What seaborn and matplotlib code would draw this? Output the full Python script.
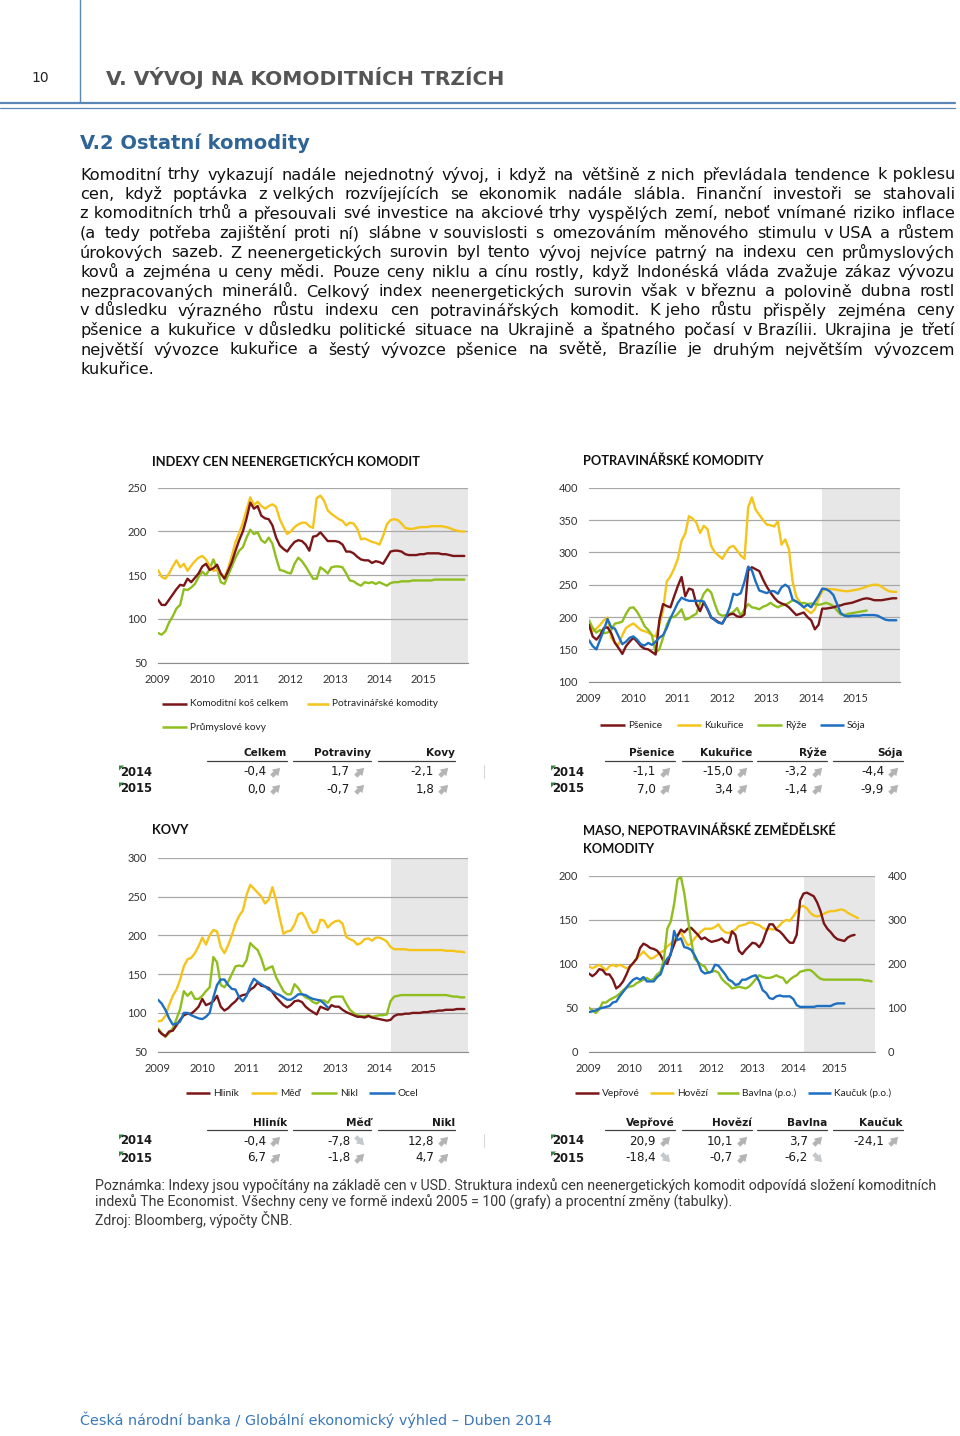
import numpy as np
import matplotlib
matplotlib.use("Agg")
import matplotlib.pyplot as plt
import seaborn as sns
from matplotlib.patches import Polygon

nan = np.nan
W, H = 960, 1436

# monthly points 2009-01 .. 2015-12
months = 2009 + np.arange(84) / 12.0
years = [2009, 2010, 2011, 2012, 2013, 2014, 2015]
forecast_start = 2014.25

# --- INDEXY CEN NEENERGETICKÝCH KOMODIT ---
celkem = [122, 116, 116, 122, 128, 134, 139, 138, 146, 142, 147, 152,
          160, 163, 156, 158, 162, 152, 146, 155, 165, 178, 190, 200,
          215, 233, 226, 229, 218, 215, 214, 207, 193, 184, 180, 177,
          183, 188, 190, 189, 185, 178, 194, 195, 199, 194, 189, 189,
          189, 188, 185, 177, 177, 175, 171, 168, 167, 167, 164, 166,
          165, 163, 170, 177, 178, 178, 177, 174, 173, 173, 173, 174,
          174, 175, 175, 175, 175, 174, 174, 173, 172, 172, 172, 172]
potraviny = [156, 148, 146, 152, 160, 167, 159, 163, 155, 161, 166, 170,
             172, 168, 160, 155, 156, 152, 147, 158, 172, 188, 198, 210,
             225, 239, 230, 234, 229, 226, 229, 231, 228, 214, 205, 197,
             200, 205, 208, 210, 210, 206, 204, 238, 241, 235, 224, 220,
             217, 214, 212, 207, 210, 209, 203, 191, 192, 190, 188, 187,
             185, 195, 208, 213, 214, 213, 209, 204, 203, 203, 204, 205,
             205, 205, 206, 206, 206, 206, 205, 204, 202, 201, 200, 200]
kovy = [84, 82, 86, 96, 103, 112, 116, 134, 133, 136, 140, 148,
        154, 150, 157, 168, 158, 142, 140, 150, 160, 170, 178, 182,
        193, 202, 197, 199, 190, 187, 193, 186, 170, 156, 155, 153,
        152, 163, 170, 166, 160, 153, 146, 146, 159, 156, 152, 159,
        160, 160, 159, 152, 144, 143, 140, 138, 142, 141, 142, 140,
        142, 140, 138, 141, 142, 142, 143, 143, 143, 144, 144, 144,
        144, 144, 144, 145, 145, 145, 145, 145, 145, 145, 145, 145]

# --- POTRAVINÁŘSKÉ KOMODITY ---
psenice = [188, 170, 165, 172, 183, 184, 175, 160, 152, 143, 155, 162,
           168, 162, 155, 151, 150, 146, 142, 195, 220, 217, 215, 232,
           248, 262, 232, 244, 242, 220, 209, 223, 212, 199, 196, 192,
           190, 200, 204, 205, 201, 200, 204, 272, 277, 274, 271, 258,
           247, 238, 230, 224, 221, 219, 215, 209, 203, 205, 207, 200,
           195, 181, 188, 213, 213, 214, 215, 217, 218, 220, 221, 222,
           224, 226, 228, 229, 228, 226, 226, 226, 227, 228, 229, 229]
kukurice = [193, 178, 182, 188, 195, 199, 168, 160, 157, 172, 183, 187,
            190, 185, 180, 178, 176, 172, 170, 188, 210, 255, 263, 275,
            290, 318, 329, 356, 352, 346, 330, 341, 336, 310, 300, 295,
            290, 300, 308, 310, 303, 295, 290, 370, 385, 366, 358, 350,
            343, 342, 340, 348, 312, 320, 305, 255, 231, 223, 215, 210,
            206, 212, 228, 240, 244, 243, 243, 242, 241, 240, 240, 241,
            242, 243, 245, 247, 249, 250, 250, 247, 243, 240, 239, 239]
ryze = [195, 183, 176, 180, 175, 176, 180, 190, 191, 193, 205, 214,
        215, 208, 198, 186, 180, 172, 145, 150, 168, 188, 200, 200,
        205, 212, 196, 198, 202, 205, 222, 236, 243, 238, 220, 205,
        202, 203, 205, 208, 214, 202, 212, 220, 215, 214, 212, 216,
        218, 222, 218, 215, 218, 219, 222, 226, 224, 221, 222, 220,
        221, 220, 219, 220, 222, 220, 217, 210, 204, 203, 205, 206,
        207, 208, 209, 210, nan, nan, nan, nan, nan, nan, nan, nan]
soja = [164, 155, 150, 165, 180, 197, 184, 182, 170, 158, 162, 168,
        170, 165, 158, 156, 160, 157, 162, 168, 172, 183, 198, 210,
        222, 230, 227, 225, 225, 225, 225, 224, 213, 200, 195, 191,
        190, 200, 215, 236, 234, 237, 255, 278, 272, 255, 241, 239,
        237, 240, 240, 236, 246, 250, 246, 227, 224, 220, 215, 219,
        215, 224, 233, 244, 243, 240, 234, 220, 206, 202, 201, 202,
        202, 202, 203, 203, 203, 203, 202, 199, 196, 195, 195, 195]

# --- KOVY ---
hlinik = [78, 73, 70, 76, 77, 84, 91, 97, 99, 99, 103, 108,
          118, 110, 112, 115, 122, 108, 103, 106, 111, 115, 121, 123,
          124, 130, 133, 139, 135, 134, 132, 127, 120, 115, 110, 107,
          110, 115, 116, 114, 108, 104, 101, 98, 108, 106, 104, 110,
          108, 108, 104, 101, 99, 97, 95, 95, 94, 96, 94, 93,
          92, 91, 90, 91, 96, 98, 98, 99, 99, 100, 100, 100,
          101, 101, 102, 102, 103, 103, 104, 104, 104, 105, 105, 105]
med = [89, 90, 96, 110, 122, 130, 143, 160, 169, 171, 177, 186,
       197, 188, 200, 207, 205, 185, 177, 187, 200, 215, 225, 232,
       252, 265, 260, 255, 250, 241, 246, 262, 245, 222, 202, 205,
       206, 214, 227, 229, 222, 210, 203, 205, 220, 219, 210, 215,
       218, 219, 215, 198, 195, 193, 188, 190, 195, 196, 193, 197,
       197, 195, 192, 185, 182, 182, 182, 182, 181, 181, 181, 181,
       181, 181, 181, 181, 181, 181, 180, 180, 180, 179, 179, 178]
nikl = [80, 74, 69, 74, 80, 92, 105, 128, 122, 127, 118, 118,
        122, 128, 133, 172, 165, 136, 133, 140, 150, 160, 161, 160,
        168, 190, 185, 181, 170, 155, 158, 160, 146, 137, 128, 124,
        124, 137, 132, 124, 120, 118, 114, 112, 116, 116, 113, 120,
        121, 121, 121, 112, 104, 100, 97, 96, 96, 97, 95, 96,
        97, 97, 98, 115, 121, 122, 123, 123, 123, 123, 123, 123,
        123, 123, 123, 123, 123, 123, 123, 122, 121, 121, 120, 120]
ocel = [117, 112, 104, 93, 85, 86, 89, 100, 100, 97, 95, 93,
        92, 95, 100, 120, 136, 143, 143, 136, 131, 130, 120, 115,
        122, 135, 144, 140, 137, 134, 130, 128, 125, 123, 120, 117,
        117, 120, 124, 124, 123, 120, 118, 117, 116, 112, 107, nan] + [nan] * 36

# --- MASO, NEPOTRAVINÁŘSKÉ ZEMĚDĚLSKÉ KOMODITY ---
veprove = [89, 86, 89, 94, 93, 88, 88, 82, 72, 75, 80, 88,
           97, 101, 106, 118, 123, 121, 118, 117, 115, 110, 102, 100,
           112, 122, 132, 139, 136, 140, 141, 137, 133, 128, 130, 127,
           125, 126, 127, 129, 125, 124, 137, 133, 115, 111, 116, 120,
           124, 123, 119, 125, 136, 145, 145, 139, 137, 133, 128, 124,
           124, 133, 172, 180, 181, 179, 177, 170, 160, 146, 140, 136,
           131, 128, 127, 126, 130, 132, 133, nan, nan, nan, nan, nan]
hovezi = [97, 95, 97, 99, 96, 93, 97, 99, 97, 99, 97, 95,
          96, 101, 106, 110, 114, 110, 106, 107, 110, 113, 115, 120,
          123, 127, 132, 136, 128, 121, 123, 129, 133, 137, 140, 140,
          140, 142, 145, 139, 136, 135, 137, 139, 143, 144, 145, 147,
          147, 145, 144, 141, 139, 140, 139, 140, 144, 148, 150, 149,
          154, 160, 165, 166, 163, 158, 155, 154, 155, 157, 159, 160,
          160, 161, 162, 161, 158, 156, 154, 152, nan, nan, nan, nan]
# right axis (p.o.)
bavlna = [100, 94, 88, 96, 112, 112, 118, 122, 126, 132, 140, 146,
          148, 150, 156, 160, 164, 168, 162, 166, 176, 182, 210, 280,
          296, 336, 392, 398, 360, 304, 254, 212, 204, 198, 194, 180,
          182, 184, 180, 166, 158, 152, 144, 146, 148, 146, 144, 148,
          156, 166, 174, 170, 168, 168, 170, 174, 170, 168, 156, 164,
          170, 174, 182, 184, 186, 186, 180, 172, 166, 164, 164, 164,
          164, 164, 164, 164, 164, 164, 164, 164, 164, 162, 162, 160]
kaucuk = [90, 92, 94, 98, 100, 102, 104, 112, 114, 126, 136, 146,
          156, 164, 168, 164, 170, 160, 160, 160, 170, 176, 198, 212,
          220, 275, 254, 258, 238, 236, 232, 220, 204, 184, 178, 180,
          182, 198, 196, 186, 176, 164, 160, 152, 154, 164, 164, 168,
          172, 174, 160, 140, 134, 122, 120, 126, 128, 126, 126, 126,
          120, 106, 102, 102, 102, 102, 102, 104, 104, 104, 104, 104,
          108, 110, 110, 110, nan, nan, nan, nan, nan, nan, nan, nan]

# tables
tab1_cols = ["Celkem", "Potraviny", "Kovy"]
tab1_2014 = ["-0,4", "1,7", "-2,1"]
tab1_2015 = ["0,0", "-0,7", "1,8"]
tab1_dir = [("up", "up"), ("up", "up"), ("up", "up")]
tab2_cols = ["Pšenice", "Kukuřice", "Rýže", "Sója"]
tab2_2014 = ["-1,1", "-15,0", "-3,2", "-4,4"]
tab2_2015 = ["7,0", "3,4", "-1,4", "-9,9"]
tab2_dir = [("up", "up"), ("up", "up"), ("up", "up"), ("up", "up")]
tab3_cols = ["Hliník", "Měď", "Nikl"]
tab3_2014 = ["-0,4", "-7,8", "12,8"]
tab3_2015 = ["6,7", "-1,8", "4,7"]
tab3_dir = [("up", "up"), ("down", "up"), ("up", "up")]
tab4_cols = ["Vepřové", "Hovězí", "Bavlna", "Kaučuk"]
tab4_2014 = ["20,9", "10,1", "3,7", "-24,1"]
tab4_2015 = ["-18,4", "-0,7", "-6,2", ""]
tab4_dir = [("up", "down"), ("up", "up"), ("up", "down"), ("up", None)]

paragraph = [
    "Komoditní trhy vykazují nadále nejednotný vývoj, i když na většině z nich převládala tendence k poklesu",
    "cen, když poptávka z velkých rozvíjejících se ekonomik nadále slábla. Finanční investoři se stahovali",
    "z komoditních trhů a přesouvali své investice na akciové trhy vyspělých zemí, neboť vnímané riziko inflace",
    "(a tedy potřeba zajištění proti ní) slábne v souvislosti s omezováním měnového stimulu v USA a růstem",
    "úrokových sazeb. Z neenergetických surovin byl tento vývoj nejvíce patrný na indexu cen průmyslových",
    "kovů a zejména u ceny mědi. Pouze ceny niklu a cínu rostly, když Indonéská vláda zvažuje zákaz vývozu",
    "nezpracovaných minerálů. Celkový index neenergetických surovin však v březnu a polovině dubna rostl",
    "v důsledku výrazného růstu indexu cen potravinářských komodit. K jeho růstu přispěly zejména ceny",
    "pšenice a kukuřice v důsledku politické situace na Ukrajině a špatného počasí v Brazílii. Ukrajina je třetí",
    "největší vývozce kukuřice a šestý vývozce pšenice na světě, Brazílie je druhým největším vývozcem",
    "kukuřice.",
]
footnote = [
    "Poznámka: Indexy jsou vypočítány na základě cen v USD. Struktura indexů cen neenergetických komodit odpovídá složení komoditních",
    "indexů The Economist. Všechny ceny ve formě indexů 2005 = 100 (grafy) a procentní změny (tabulky).",
    "Zdroj: Bloomberg, výpočty ČNB.",
]

RED, YEL, GRN, BLU = "#7a1518", "#f4c41a", "#8fbe1e", "#1d6fc2"
SHADE, GRID = "#e7e7e7", "#a8a8a8"
HEADBLUE = "#5b87b6"

sns.set_style("white")
plt.rcParams['font.family'] = ['Lato', 'DejaVu Sans']

fig = plt.figure(figsize=(9.6, 14.36), dpi=100)
page = fig.add_axes([0, 0, 1, 1])
page.set_xlim(0, W)
page.set_ylim(H, 0)
page.axis('off')
renderer = fig.canvas.get_renderer()


def width_of(t):
    return t.get_window_extent(renderer=renderer).width


def fit(t, width):
    t.set_fontsize(t.get_fontsize() * width / width_of(t))
    return t


# header
page.plot([80, 80], [0, 103], color=HEADBLUE, lw=1.0)
page.plot([0, 955], [103.3, 103.3], color=HEADBLUE, lw=1.6)
page.plot([0, 955], [107.5, 107.5], color=HEADBLUE, lw=0.9)
page.text(31, 78, "10", fontsize=10, family='DejaVu Sans', color='#222', va='center')
fit(page.text(106, 78, "V. VÝVOJ NA KOMODITNÍCH TRZÍCH", fontsize=14, family='DejaVu Sans',
              fontweight='bold', color='#555555', va='center'), 399)
fit(page.text(80, 143, "V.2 Ostatní komodity", fontsize=14, family='DejaVu Sans',
              fontweight='bold', color='#2f6496', va='center'), 231)

# justified paragraph
PX0, PX1 = 80, 955
probe = [page.text(0, -100, ln, fontsize=10, family='DejaVu Sans') for ln in paragraph]
nat = [width_of(t) for t in probe]
for t in probe:
    t.remove()
pfs = 10 * (PX1 - PX0) / max(nat) * 0.985
sp = page.text(0, -100, "x x", fontsize=pfs, family='DejaVu Sans')
sp2 = page.text(0, -100, "xx", fontsize=pfs, family='DejaVu Sans')
space_w = width_of(sp) - width_of(sp2)
sp.remove()
sp2.remove()

for i, ln in enumerate(paragraph):
    y = 175 + i * 19.42
    words = ln.split(" ")
    tokens = []
    for w in words:
        if tokens and tokens[-1] in ("v", "z", "k", "K", "V", "Z"):
            tokens[-1] = tokens[-1] + " " + w
        else:
            tokens.append(w)
    texts = [page.text(0, y, tk, fontsize=pfs, family='DejaVu Sans', color='#111', va='center')
             for tk in tokens]
    widths = [width_of(t) for t in texts]
    last = i == len(paragraph) - 1
    gap = space_w if last or len(tokens) < 2 else (PX1 - PX0 - sum(widths)) / (len(tokens) - 1)
    x = PX0
    for t, w in zip(texts, widths):
        t.set_x(x)
        x += w + gap


def chart(px, ylim, ystep, series, right=None):
    x0, x1, ytop, ybot = px
    ax = fig.add_axes([x0 / W, 1 - ybot / H, (x1 - x0) / W, (ybot - ytop) / H])
    ax.set_facecolor('none')
    ax.axvspan(forecast_start, 2016, color=SHADE, lw=0, zorder=0)
    for vals, col in series:
        sns.lineplot(x=months, y=np.array(vals, dtype=float), ax=ax, color=col,
                     linewidth=1.7, estimator=None, errorbar=None)
    ax.set_xlim(2009, 2016)
    ax.set_ylim(*ylim)
    ax.set_yticks(np.arange(ylim[0], ylim[1] + 1, ystep))
    ax.yaxis.grid(True, color=GRID, lw=0.9)
    ax.xaxis.grid(False)
    ax.set_axisbelow(True)
    for s in ['top', 'right', 'left']:
        ax.spines[s].set_visible(False)
    ax.spines['bottom'].set_color('#8c8c8c')
    ax.set_xticks(range(2009, 2017))
    ax.set_xticklabels([str(y) for y in years] + [''])
    ax.tick_params(axis='x', length=3, color='#8c8c8c', labelsize=8, pad=5, labelcolor='#333')
    ax.tick_params(axis='y', length=0, labelsize=8, pad=8, labelcolor='#333')
    ax.set_xlabel('')
    ax.set_ylabel('')
    if right is not None:
        ax2 = ax.twinx()
        for vals, col in right[1]:
            sns.lineplot(x=months, y=np.array(vals, dtype=float), ax=ax2, color=col,
                         linewidth=1.7, estimator=None, errorbar=None)
        ax2.set_ylim(*right[0])
        ax2.set_yticks(np.arange(right[0][0], right[0][1] + 1, 100))
        for s in ['top', 'right', 'left', 'bottom']:
            ax2.spines[s].set_visible(False)
        ax2.tick_params(axis='y', length=0, labelsize=8, pad=9, labelcolor='#333')
        ax2.set_ylabel('')
        ax2.grid(False)
    return ax


def legend_item(x0, x1, y, color, label):
    page.plot([x0, x1], [y, y], color=color, lw=1.8, solid_capstyle='butt')
    page.text(x1 + 3, y, label, fontsize=7.3, va='center', ha='left', color='#222')


def arrow(x, y, d):
    if d is None:
        return
    dy = -4.2 if d == "up" else 4.2
    col = '#b4b4b4' if d == "up" else '#c3c8cc'
    page.annotate('', xy=(x + 4.2, y + dy), xytext=(x - 4.2, y - dy),
                  arrowprops=dict(arrowstyle='simple,head_width=0.95,head_length=0.75,tail_width=0.45',
                                  fc=col, ec='none', shrinkA=0, shrinkB=0, mutation_scale=7))


def table(ys, label_x, rights, lefts, cols, v14, v15, dirs, voff, aoff, mark=True):
    yh, yu, y1, y2 = ys
    for c, r, l in zip(cols, rights, lefts):
        page.text(r, yh, c, fontsize=7.6, family='DejaVu Sans', fontweight='bold',
                  ha='right', va='center', color='#1a1a1a')
        page.plot([l, r], [yu, yu], color='#404040', lw=0.9)
    for yy, lab in ((y1, "2014"), (y2, "2015")):
        page.text(label_x, yy, lab, fontsize=8.4, family='DejaVu Sans', fontweight='bold',
                  ha='left', va='center', color='#1a1a1a')
        page.add_patch(Polygon([(label_x - 1, yy - 6.5), (label_x + 4, yy - 6.5), (label_x - 1, yy - 1.5)],
                               closed=True, color='#2e8b3e', lw=0))
    for r, a, b, (d1, d2) in zip(rights, v14, v15, dirs):
        page.text(r - voff, y1, a, fontsize=8.6, family='DejaVu Sans', ha='right', va='center', color='#1a1a1a')
        page.text(r - voff, y2, b, fontsize=8.6, family='DejaVu Sans', ha='right', va='center', color='#1a1a1a')
        arrow(r - aoff, y1, d1)
        arrow(r - aoff, y2, d2 if b else None)
    if mark:
        page.plot([483.5, 483.5], [y1 - 7, y1 + 6], color='#d8d8d8', lw=0.8)


TFS = 9.3

# chart 1
page.text(152, 461, "INDEXY CEN NEENERGETICKÝCH KOMODIT", fontsize=TFS, fontweight='bold', va='center', color='#111')
chart((158, 468, 487.7, 662.7), (50, 250), 50, [(kovy, GRN), (potraviny, YEL), (celkem, RED)])
legend_item(162, 187, 704, RED, "Komoditní koš celkem")
legend_item(307, 329, 704, YEL, "Potravinářské komodity")
legend_item(162, 187, 727, GRN, "Průmyslové kovy")
table((753, 760.5, 772, 789), 120, [287, 371, 455], [207, 293, 378],
      tab1_cols, tab1_2014, tab1_2015, tab1_dir, 21, 11)

# chart 2
page.text(583, 461, "POTRAVINÁŘSKÉ KOMODITY", fontsize=TFS, fontweight='bold', va='center', color='#111')
chart((589, 900, 487.7, 681.7), (100, 400), 50, [(kukurice, YEL), (ryze, GRN), (psenice, RED), (soja, BLU)])
legend_item(600, 625, 725, RED, "Pšenice")
legend_item(677, 701, 725, YEL, "Kukuřice")
legend_item(757, 782, 725, GRN, "Rýže")
legend_item(820, 844, 725, BLU, "Sója")
table((753, 760.5, 772, 789), 552, [675, 752, 827, 903], [605, 682, 757, 833],
      tab2_cols, tab2_2014, tab2_2015, tab2_dir, 19, 9, mark=False)

# chart 3
page.text(152, 830, "KOVY", fontsize=TFS, fontweight='bold', va='center', color='#111')
chart((158, 468, 857.7, 1051.7), (50, 300), 50, [(med, YEL), (nikl, GRN), (hlinik, RED), (ocel, BLU)])
legend_item(186, 210, 1093, RED, "Hliník")
legend_item(251, 277, 1093, YEL, "Měď")
legend_item(311, 337, 1093, GRN, "Nikl")
legend_item(369, 395, 1093, BLU, "Ocel")
table((1123, 1130, 1141, 1158), 120, [287, 371, 455], [207, 293, 378],
      tab3_cols, tab3_2014, tab3_2015, tab3_dir, 21, 11)

# chart 4
page.text(583, 830, "MASO, NEPOTRAVINÁŘSKÉ ZEMĚDĚLSKÉ", fontsize=TFS, fontweight='bold', va='center', color='#111')
page.text(583, 849, "KOMODITY", fontsize=TFS, fontweight='bold', va='center', color='#111')
chart((589, 875, 876, 1051.7), (0, 200), 50, [(hovezi, YEL), (veprove, RED)],
      right=((0, 400), [(bavlna, GRN), (kaucuk, BLU)]))
legend_item(575, 599, 1093, RED, "Vepřové")
legend_item(650, 674, 1093, YEL, "Hovězí")
legend_item(717, 739, 1093, GRN, "Bavlna (p.o.)")
legend_item(808, 831, 1093, BLU, "Kaučuk (p.o.)")
table((1123, 1130, 1141, 1158), 552, [675, 752, 827, 903], [605, 682, 757, 833],
      tab4_cols, tab4_2014, tab4_2015, tab4_dir, 19, 9, mark=False)

# footnote
t0 = fit(page.text(95, 1186, footnote[0], fontsize=9, family='Roboto', color='#3a3a3a', va='center'), 845)
ffs = t0.get_fontsize()
page.text(95, 1202.5, footnote[1], fontsize=ffs, family='Roboto', color='#3a3a3a', va='center')
page.text(95, 1219, footnote[2], fontsize=ffs, family='Roboto', color='#3a3a3a', va='center')

# footer
fit(page.text(80, 1420, "Česká národní banka / Globální ekonomický výhled – Duben 2014", fontsize=10,
              family='DejaVu Sans', color='#3a78b8', va='center'), 472)

fig.savefig("out.png", dpi=100)
